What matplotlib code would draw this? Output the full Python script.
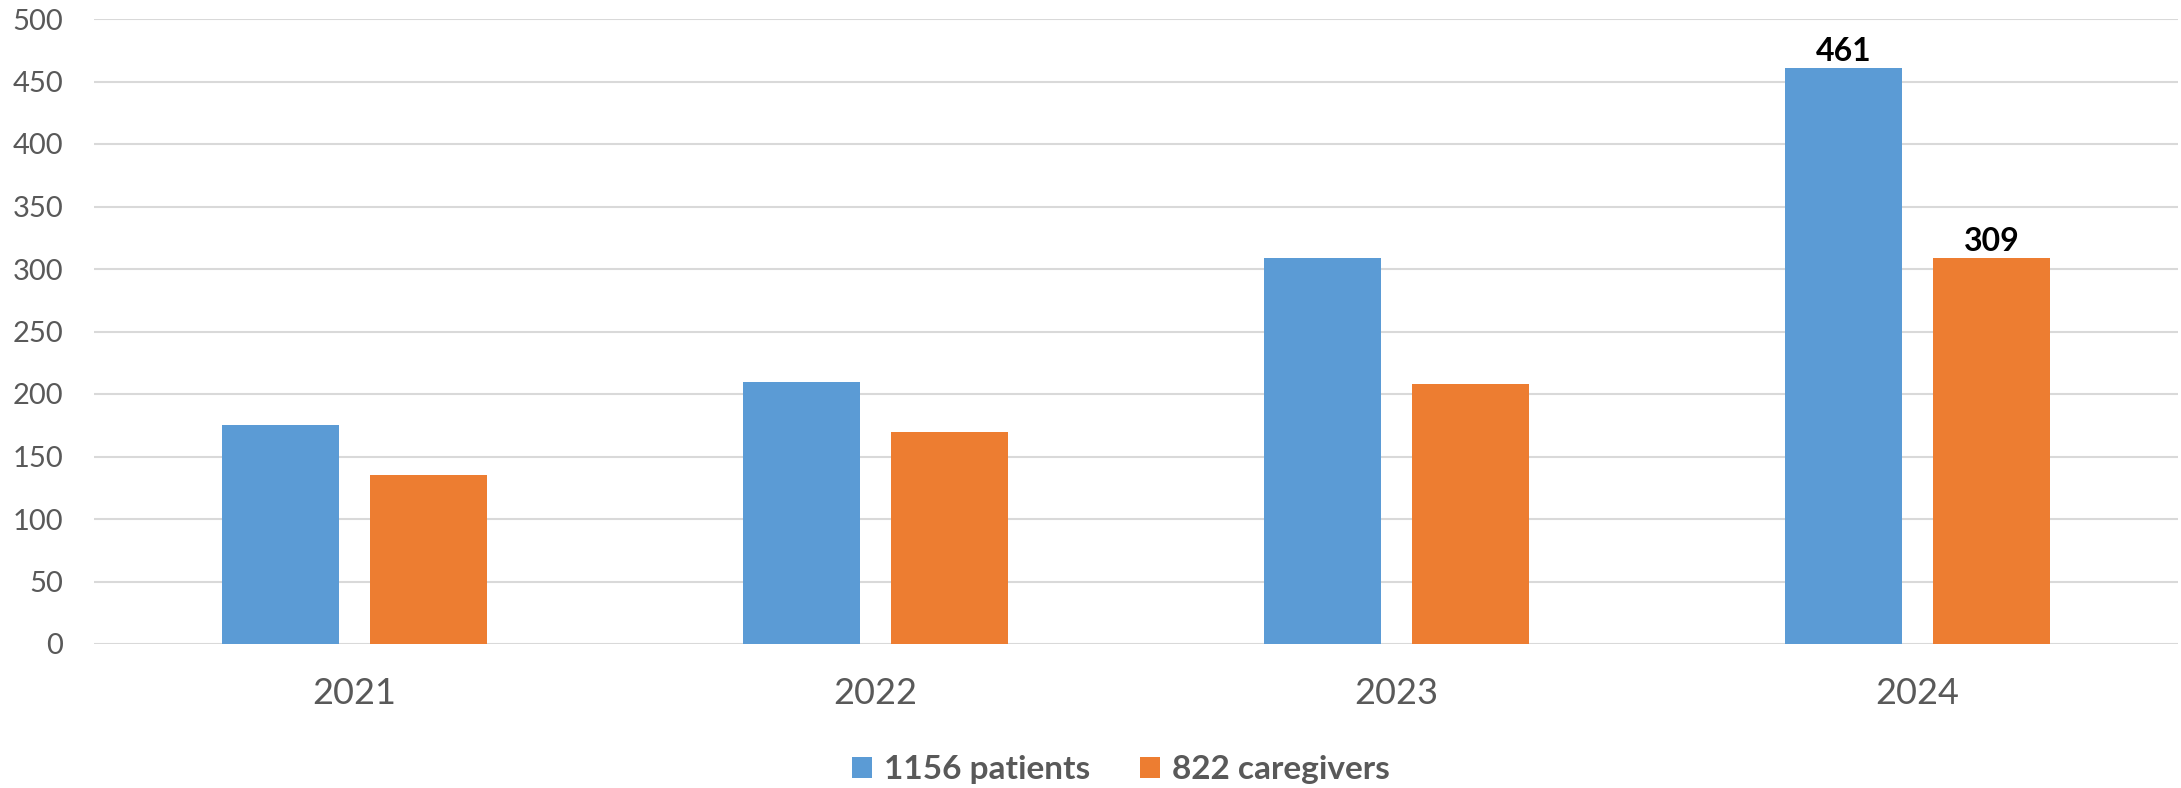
import numpy as np
import matplotlib
matplotlib.use("Agg")
import matplotlib.pyplot as plt

# %% data

years = ["2021", "2022", "2023", "2024"]
patients = [175, 210, 309, 461]
caregivers = [135, 170, 208, 309]
series_labels = ["1156 patients", "822 caregivers"]
labelled = [False, False, False, True]   # only the last year carries value labels

blue = "#5B9BD5"
orange = "#ED7D31"
tick_grey = "#595959"
grid_grey = "#D9D9D9"

plt.rcParams.update({"font.family": ["Lato", "DejaVu Sans"]})

# %% plot

fig = plt.figure(figsize=(21.81, 7.88), dpi=100)
ax = fig.add_axes([94/2181, 1 - 644/788, (2178 - 94)/2181, (644 - 19)/788])

x = np.arange(len(years))
w = 0.223
off = 0.142

b1 = ax.bar(x - off, patients, w, color=blue, label=series_labels[0], zorder=3)
b2 = ax.bar(x + off, caregivers, w, color=orange, label=series_labels[1], zorder=3)

for bars in (b1, b2):
    for rect, show in zip(bars, labelled):
        if show:
            ax.annotate(f"{rect.get_height():.0f}",
                        (rect.get_x() + rect.get_width()/2, rect.get_height()),
                        xytext=(0, 1), textcoords="offset points",
                        ha="center", va="bottom", fontsize=23, fontweight="bold", color="black")

ax.set_xlim(-0.5, len(years) - 0.5)
ax.set_ylim(0, 500)
ax.set_yticks(range(0, 501, 50))
ax.set_xticks(x)
ax.set_xticklabels(years)

ax.yaxis.grid(True, color=grid_grey, linewidth=1.5, zorder=0)
ax.set_axisbelow(True)
for s in ["top", "right", "left", "bottom"]:
    ax.spines[s].set_visible(False)

ax.tick_params(axis="y", length=0, pad=22, labelsize=21, labelcolor=tick_grey)
ax.tick_params(axis="x", length=0, pad=24, labelsize=26, labelcolor=tick_grey)

leg = fig.legend(loc="center", bbox_to_anchor=(1121/2181, 1 - 770/788), ncol=2, frameon=False,
                 prop={"size": 24, "weight": "bold"}, handlelength=0.6, handleheight=0.6,
                 handletextpad=0.36, columnspacing=1.47, borderpad=0, borderaxespad=0)
for t in leg.get_texts():
    t.set_color(tick_grey)

fig.savefig("out.png", dpi=100)
